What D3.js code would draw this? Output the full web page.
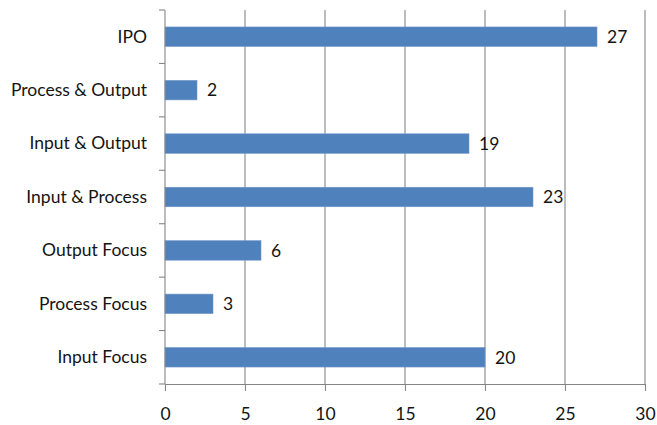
<!DOCTYPE html>
<html>
<head>
<meta charset="utf-8">
<script src="https://cdn.jsdelivr.net/npm/d3@7"></script>
<style>
  html, body { margin: 0; padding: 0; background: #fff; }
  svg { display: block; }
  text { font-family: Lato, "Open Sans", sans-serif; fill: #141414; }
</style>
</head>
<body>
<svg id="chart" width="657" height="425"></svg>
<script>
// Categories listed top to bottom
const categories = ["IPO", "Process & Output", "Input & Output", "Input & Process", "Output Focus", "Process Focus", "Input Focus"];
const counts = [27, 2, 19, 23, 6, 3, 20];
const xTicks = [0, 5, 10, 15, 20, 25, 30];

const svg = d3.select("#chart");
const margin = { left: 165, right: 12, top: 10, bottom: 41 };
const W = 657, H = 425;
const fontSize = 17.5;

const x = d3.scaleLinear().domain([0, 30]).range([margin.left, W - margin.right]);
const y = d3.scaleBand().domain(categories)
  .range([margin.top, H - margin.bottom])
  .paddingInner(0.635).paddingOuter(0.3175);

const gridColor = "#868686";

// vertical gridlines
svg.append("g").selectAll("line").data(xTicks.filter(d => d > 0)).join("line")
  .attr("x1", d => x(d)).attr("x2", d => x(d))
  .attr("y1", margin.top).attr("y2", H - margin.bottom)
  .attr("stroke", gridColor).attr("stroke-width", 1.1);

// bars
const data = categories.map((c, i) => ({ c, v: counts[i] }));
svg.append("g").selectAll("rect").data(data).join("rect")
  .attr("x", x(0))
  .attr("y", d => y(d.c))
  .attr("width", d => x(d.v) - x(0))
  .attr("height", y.bandwidth())
  .attr("fill", "#4f81bd")
  .attr("stroke", "#6f98c9").attr("stroke-width", 0.6);

// value labels
svg.append("g").selectAll("text").data(data).join("text")
  .attr("x", d => x(d.v) + 10)
  .attr("y", d => y(d.c) + y.bandwidth() / 2)
  .attr("dy", "0.36em")
  .attr("font-size", fontSize)
  .text(d => d.v);

// x axis
const xAxis = svg.append("g")
  .attr("transform", `translate(0,${H - margin.bottom})`)
  .call(d3.axisBottom(x).tickValues(xTicks).tickSize(7).tickPadding(17).tickSizeOuter(0));
xAxis.select(".domain").attr("stroke", gridColor).attr("stroke-width", 1.1);
xAxis.selectAll(".tick line").attr("stroke", gridColor).attr("stroke-width", 1.1);
xAxis.selectAll("text").attr("font-size", fontSize).attr("fill", "#141414");

// y axis: ticks sit on band boundaries
const bounds = d3.range(categories.length + 1).map(i => margin.top + i * y.step());
const yAxis = svg.append("g");
yAxis.append("line")
  .attr("x1", x(0)).attr("x2", x(0))
  .attr("y1", margin.top).attr("y2", H - margin.bottom)
  .attr("stroke", gridColor).attr("stroke-width", 1.1);
yAxis.selectAll("line.tk").data(bounds).join("line").attr("class", "tk")
  .attr("x1", x(0) - 6).attr("x2", x(0))
  .attr("y1", d => d).attr("y2", d => d)
  .attr("stroke", gridColor).attr("stroke-width", 1.1);
yAxis.selectAll("text").data(categories).join("text")
  .attr("x", x(0) - 18)
  .attr("y", d => y(d) + y.bandwidth() / 2 - 0.5)
  .attr("dy", "0.36em")
  .attr("text-anchor", "end")
  .attr("font-size", fontSize)
  .text(d => d);
</script>
</body>
</html>
